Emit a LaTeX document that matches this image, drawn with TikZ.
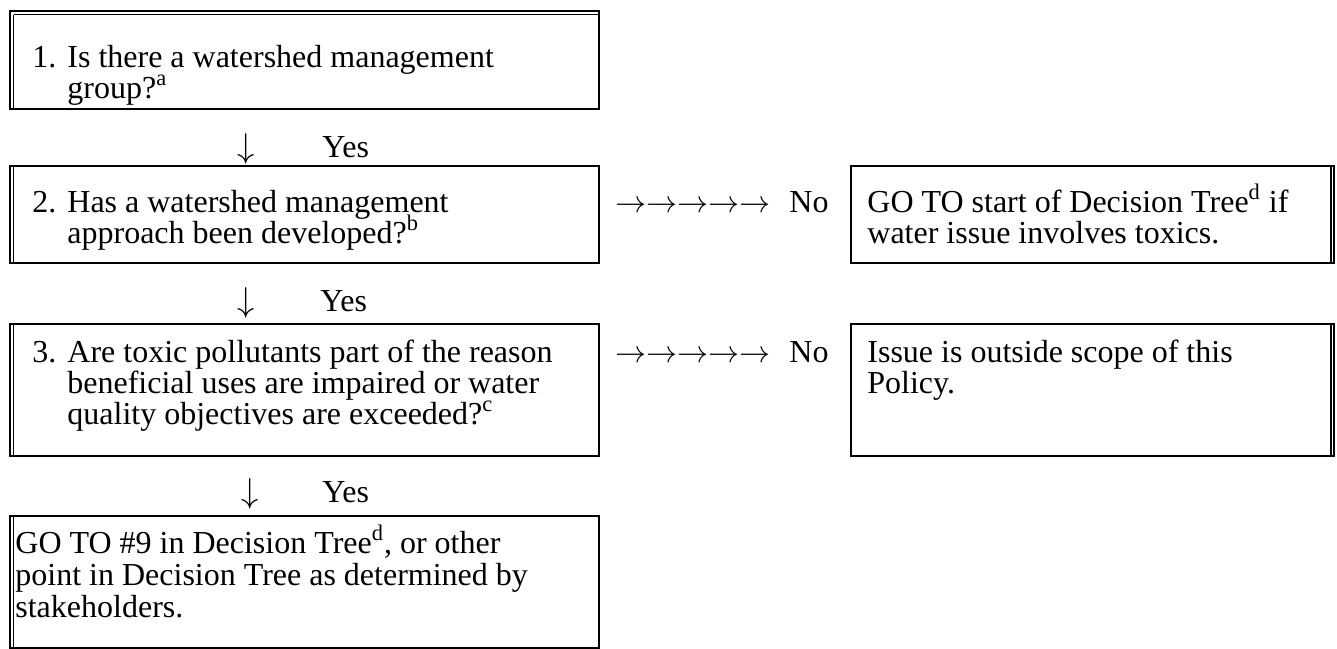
\documentclass[tikz,border=0pt]{standalone}
\usepackage{graphicx}
\usepackage{fontspec}
\setmainfont{Liberation Serif}
\begin{document}
\begin{tikzpicture}[x=0.5pt,y=-0.5pt,
  box/.style={draw, line width=1pt, inner sep=0pt, anchor=north west},
  inner/.style={line width=0.9pt},
  txt/.style={anchor=base west, inner sep=0pt, text height=11pt, text depth=3.5pt, font=\fontsize{16}{17}\selectfont},
  arr/.style={anchor=base, inner sep=0pt, text height=11pt, text depth=3.5pt, font=\fontsize{16}{17}\selectfont},
  arrs/.style={anchor=base west, inner sep=0pt, text height=11pt, text depth=3.5pt, font=\fontsize{14.4}{17}\selectfont}]
\useasboundingbox (0,0) rectangle (1337,648);
% left boxes
\node[box, minimum width=294.5pt, minimum height=49pt] (b1) at (9,10) {};
\node[box, minimum width=294.5pt, minimum height=48.5pt] (b2) at (9,165) {};
\node[box, minimum width=294.5pt, minimum height=66pt] (b3) at (9,323) {};
\node[box, minimum width=294.5pt, minimum height=66pt] (b4) at (9,515) {};
% right boxes
\node[box, minimum width=241.5pt, minimum height=48.5pt] (r1) at (850,165) {};
\node[box, minimum width=241.5pt, minimum height=66pt] (r2) at (850,323) {};
% double lines
\draw[inner] ([xshift=2.25pt,yshift=-2.25pt]b1.north west) -- ([xshift=2.25pt]b1.south west);
\draw[inner] ([xshift=2.25pt,yshift=-2.25pt]b1.north west) -- ([yshift=-2.25pt]b1.north east);
\foreach \b in {b2,b3,b4}
  \draw[inner] ([xshift=2.25pt]\b.north west) -- ([xshift=2.25pt]\b.south west);
\foreach \b in {r1,r2}
  \draw[inner] ([xshift=-2pt]\b.north east) -- ([xshift=-2pt]\b.south east);
% box 1 text
\node[txt] (n1) at (32,67) {1.};
\node[txt] (t1a) at (67,67) {Is there a watershed management};
\node[txt] (t1b) at (67,98) {group?\textsuperscript{a}};
% box 2 text
\node[txt] (n2) at (32,212) {2.};
\node[txt] (t2a) at (67,212) {Has a watershed management};
\node[txt] (t2b) at (67,243) {approach been developed?\textsuperscript{b}};
% box 3 text
\node[txt] (n3) at (32,362) {3.};
\node[txt] (t3a) at (67,362) {Are toxic pollutants part of the reason};
\node[txt] (t3b) at (67,393) {beneficial uses are impaired or water};
\node[txt] (t3c) at (67,424) {quality objectives are exceeded?\textsuperscript{c}};
% box 4 text
\node[txt] (t4a) at (15,553) {GO TO \#9 in Decision Tree\textsuperscript{d}, or other};
\node[txt] (t4b) at (15,585) {point in Decision Tree as determined by};
\node[txt] (t4c) at (15,617) {stakeholders.};
% right box texts
\node[txt] (s1a) at (867,212) {GO TO start of Decision Tree\textsuperscript{d} if};
\node[txt] (s1b) at (867,243) {water issue involves toxics.};
\node[txt] (s2a) at (867,362) {Issue is outside scope of this};
\node[txt] (s2b) at (867,393) {Policy.};
% yes connectors
\node[arr] (d1) at (246,157) {$\downarrow$};
\node[txt] (y1) at (322,157) {Yes};
\node[arr] (d2) at (246,311) {$\downarrow$};
\node[txt] (y2) at (320,311) {Yes};
\node[arr] (d3) at (250,502) {$\downarrow$};
\node[txt] (y3) at (322,502) {Yes};
% no connectors
\node[arrs] (a1) at (615,212) {\scalebox{1.076}{$\rightarrow\rightarrow\rightarrow\rightarrow\rightarrow$}};
\node[txt] (no1) at (789,212) {No};
\node[arrs] (a2) at (615,362) {\scalebox{1.076}{$\rightarrow\rightarrow\rightarrow\rightarrow\rightarrow$}};
\node[txt] (no2) at (789,362) {No};
\end{tikzpicture}
\end{document}
